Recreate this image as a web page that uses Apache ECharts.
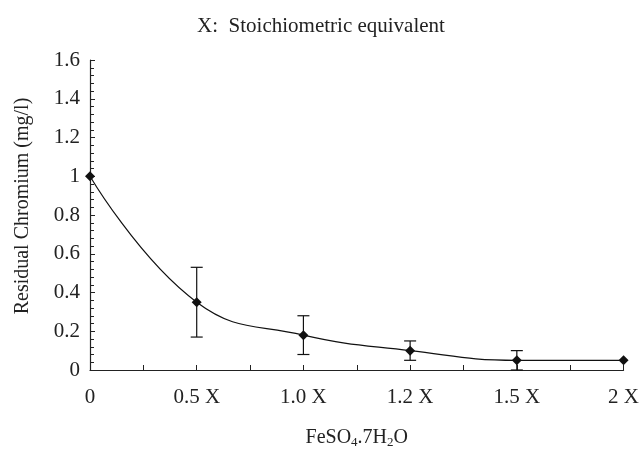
<!DOCTYPE html>
<html>
<head>
<meta charset="utf-8">
<script src="https://cdn.jsdelivr.net/npm/echarts@6/dist/echarts.min.js"></script>
<style>
  html, body { margin: 0; padding: 0; background: #fff; }
  #chart { width: 642px; height: 455px; }
</style>
</head>
<body>
<div id="chart"></div>
<script>
// dose of FeSO4.7H2O, in stoichiometric equivalents
let categories = ['0', '0.5 X', '1.0 X', '1.2 X', '1.5 X', '2 X'];
let residual = [1.0, 0.35, 0.18, 0.10, 0.05, 0.05];
// error bar ends (null = no bar)
let errLow = [null, 0.17, 0.08, 0.05, 0.0, null];
let errHigh = [null, 0.53, 0.28, 0.15, 0.10, null];
let yMin = 0, yMax = 1.6, yStep = 0.2;

let serif = '"Liberation Serif", "DejaVu Serif", serif';

let lineData = residual.map(function (v, i) { return [i, v]; });
let errData = [];
for (let i = 0; i < categories.length; i++) {
    if (errLow[i] !== null) errData.push([i, errLow[i], errHigh[i]]);
}

function renderErr(params, api) {
    let lo = api.coord([api.value(0), api.value(1)]);
    let hi = api.coord([api.value(0), api.value(2)]);
    let half = 6;
    let style = { stroke: '#111', lineWidth: 1.2 };
    return {
        type: 'group',
        children: [
            { type: 'line', shape: { x1: lo[0], y1: lo[1], x2: hi[0], y2: hi[1] }, style: style },
            { type: 'line', shape: { x1: hi[0] - half, y1: hi[1], x2: hi[0] + half, y2: hi[1] }, style: style },
            { type: 'line', shape: { x1: lo[0] - half, y1: lo[1], x2: lo[0] + half, y2: lo[1] }, style: style }
        ]
    };
}

let chart = echarts.init(document.getElementById('chart'));
chart.setOption({
    animation: false,
    backgroundColor: '#fff',
    title: {
        text: 'X:  Stoichiometric equivalent',
        left: 'center',
        top: 11,
        textStyle: { fontFamily: serif, fontWeight: 'normal', fontSize: 21, color: '#222' }
    },
    grid: { left: 90, right: 16, top: 60, bottom: 85 },
    xAxis: {
        type: 'value',
        min: 0,
        max: categories.length - 1,
        interval: 0.5,
        name: 'FeSO{sub|4}.7H{sub|2}O',
        nameLocation: 'middle',
        nameGap: 56,
        nameTextStyle: {
            fontFamily: serif, fontSize: 20, color: '#222',
            rich: { sub: { fontFamily: serif, fontSize: 13, color: '#222', verticalAlign: 'bottom', padding: [10, 0, 0, 0] } }
        },
        splitLine: { show: false },
        axisLine: { lineStyle: { color: '#222', width: 1.2 } },
        axisTick: { inside: true, length: 5, lineStyle: { color: '#222' } },
        axisLabel: {
            margin: 17,
            fontFamily: serif, fontSize: 21, color: '#222',
            formatter: function (v) {
                return Number.isInteger(v) ? categories[v] : '';
            }
        }
    },
    yAxis: {
        type: 'value',
        min: yMin,
        max: yMax,
        interval: yStep,
        name: 'Residual Chromium (mg/l)',
        nameLocation: 'middle',
        nameGap: 57,
        nameTextStyle: { fontFamily: serif, fontSize: 20, color: '#222', padding: [0, 0, 0, 18] },
        splitLine: { show: false },
        axisLine: { show: true, lineStyle: { color: '#222', width: 1.2 } },
        axisTick: { inside: true, length: 5, lineStyle: { color: '#222' } },
        minorTick: { show: true, splitNumber: 5, length: 4, lineStyle: { color: '#222' } },
        axisLabel: { margin: 10, fontFamily: serif, fontSize: 21, color: '#222' }
    },
    series: [
        {
            type: 'custom',
            renderItem: renderErr,
            data: errData,
            encode: { x: 0, y: [1, 2] },
            z: 1
        },
        {
            type: 'line',
            data: lineData,
            smooth: 0.45,
            symbol: 'diamond',
            symbolSize: 10,
            lineStyle: { color: '#111', width: 1.2 },
            itemStyle: { color: '#111' },
            z: 2
        }
    ]
});
</script>
</body>
</html>
